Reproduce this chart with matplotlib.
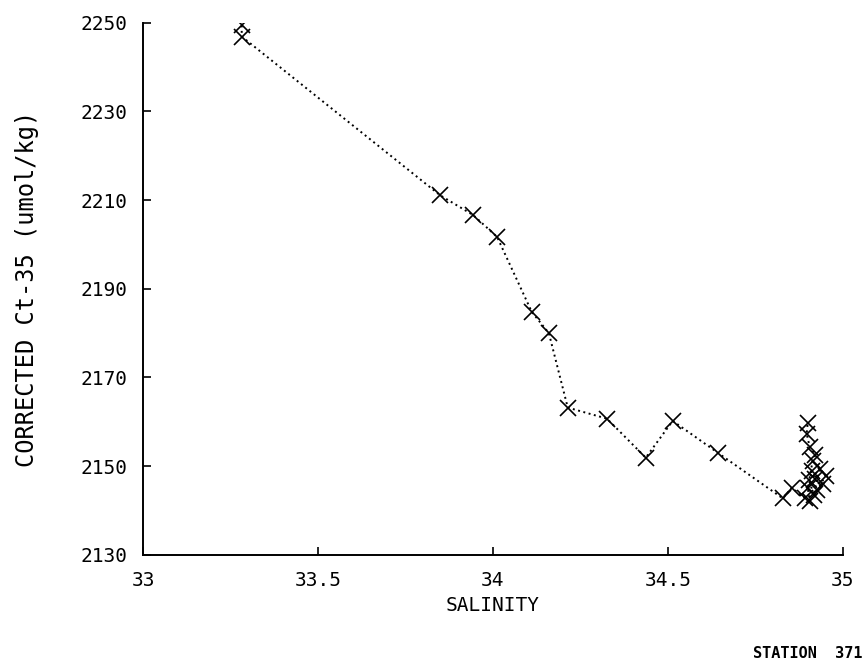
import matplotlib
matplotlib.use("Agg")
import matplotlib.pyplot as plt

# salinity / corrected Ct-35, station 371 (in profile order)
salinity = [33.282, 33.282, 33.849, 33.944, 34.012, 34.111, 34.160, 34.214,
            34.326, 34.437, 34.514, 34.643, 34.829, 34.854,
            34.891, 34.906, 34.900, 34.911, 34.920, 34.943, 34.926, 34.951,
            34.934, 34.917, 34.904, 34.914, 34.922, 34.906, 34.897, 34.900]
ct35 = [2249.4, 2246.9, 2211.1, 2206.6, 2201.7, 2184.8, 2180.0, 2163.2,
        2160.7, 2151.9, 2160.2, 2153.0, 2142.7, 2145.1,
        2142.9, 2142.2, 2145.0, 2149.0, 2147.1, 2146.0, 2144.5, 2147.8,
        2149.4, 2143.5, 2146.8, 2151.2, 2152.6, 2154.2, 2157.3, 2159.8]

xticks = [33, 33.5, 34, 34.5, 35]
xticklabels = ["33", "33.5", "34", "34.5", "35"]
yticks = [2130, 2150, 2170, 2190, 2210, 2230, 2250]

plt.rcParams['font.family'] = ['DejaVu Sans Mono']

fig = plt.figure(figsize=(8.67, 6.70), dpi=100)
ax = fig.add_axes([0.165, 0.172, 0.807, 0.794])

ax.plot(salinity, ct35, color="black", linestyle=(0, (1, 1.8)), linewidth=1.4,
        marker="x", markersize=11, markeredgewidth=1.2)

ax.set_xlim(33, 35)
ax.set_ylim(2130, 2250)
ax.set_xticks(xticks)
ax.set_xticklabels(xticklabels)
ax.set_yticks(yticks)

ax.spines["top"].set_visible(False)
ax.spines["right"].set_visible(False)
ax.spines["left"].set_linewidth(1.4)
ax.spines["bottom"].set_linewidth(1.4)
ax.tick_params(axis="both", direction="in", length=6, width=1.2, labelsize=14)
ax.tick_params(axis="y", pad=11)
ax.tick_params(axis="x", pad=12)

ax.set_xlabel("SALINITY", fontsize=14, labelpad=4)
ax.set_ylabel("CORRECTED Ct-35 (umol/kg)", fontsize=17, labelpad=30)

fig.text(0.995, 0.025, "STATION  371", ha="right", va="center",
         fontsize=11, fontweight="bold")

fig.savefig("out.png", dpi=100)
